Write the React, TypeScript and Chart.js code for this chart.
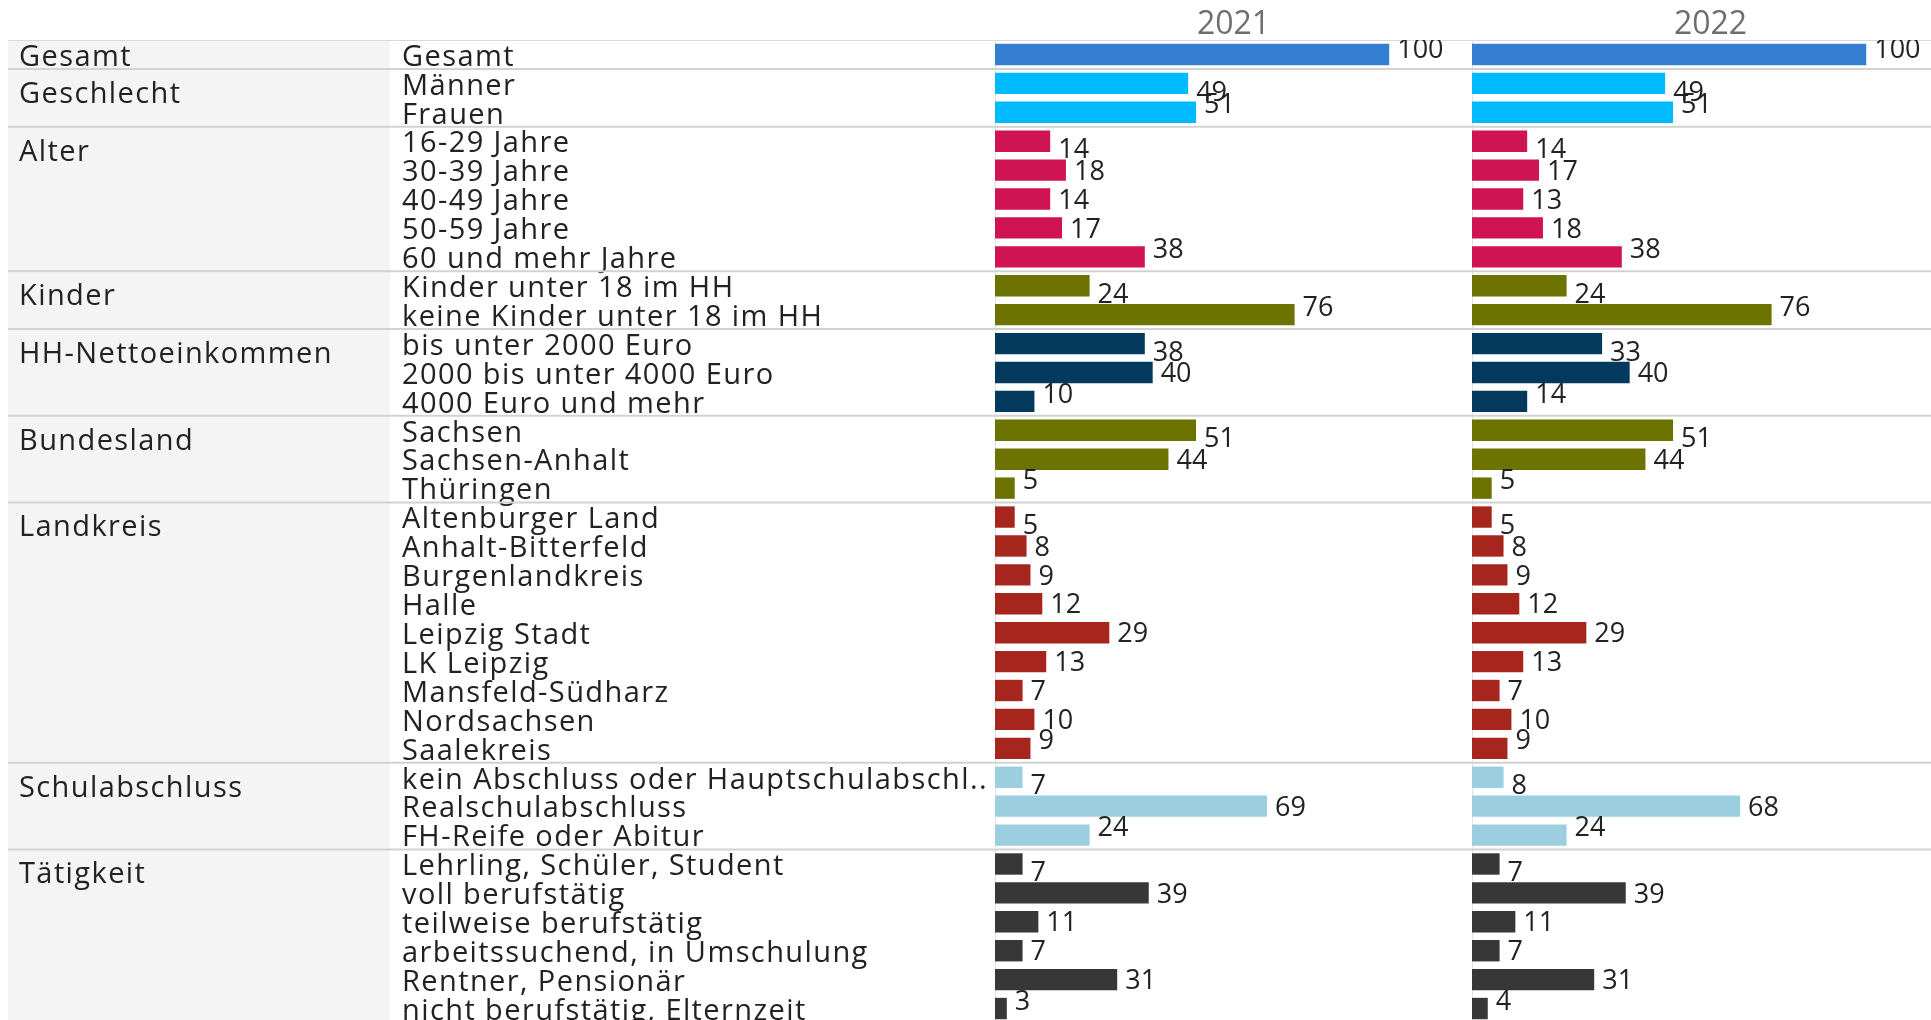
import React, { useEffect, useRef } from 'react';
import { Chart, registerables, CategoryScale } from 'chart.js';

Chart.register(...registerables);

// ---------------- data ----------------
const groups = ['Gesamt', 'Geschlecht', 'Alter', 'Kinder', 'HH-Nettoeinkommen', 'Bundesland', 'Landkreis', 'Schulabschluss', 'Tätigkeit'];
const groupSizes = [1, 2, 5, 2, 3, 3, 9, 3, 6];
const groupColors = ['#357fd2', '#00baff', '#d01352', '#6c7300', '#02395d', '#6c7300', '#a6261e', '#9bcfdf', '#373737'];

const categories = [
  'Gesamt',
  'Männer', 'Frauen',
  '16-29 Jahre', '30-39 Jahre', '40-49 Jahre', '50-59 Jahre', '60 und mehr Jahre',
  'Kinder unter 18 im HH', 'keine Kinder unter 18 im HH',
  'bis unter 2000 Euro', '2000 bis unter 4000 Euro', '4000 Euro und mehr',
  'Sachsen', 'Sachsen-Anhalt', 'Thüringen',
  'Altenburger Land', 'Anhalt-Bitterfeld', 'Burgenlandkreis', 'Halle', 'Leipzig Stadt', 'LK Leipzig', 'Mansfeld-Südharz', 'Nordsachsen', 'Saalekreis',
  'kein Abschluss oder Hauptschulabschl..', 'Realschulabschluss', 'FH-Reife oder Abitur',
  'Lehrling, Schüler, Student', 'voll berufstätig', 'teilweise berufstätig', 'arbeitssuchend, in Umschulung', 'Rentner, Pensionär', 'nicht berufstätig, Elternzeit',
];

const years = ['2021', '2022'];
const values2021 = [100, 49, 51, 14, 18, 14, 17, 38, 24, 76, 38, 40, 10, 51, 44, 5, 5, 8, 9, 12, 29, 13, 7, 10, 9, 7, 69, 24, 7, 39, 11, 7, 31, 3];
const values2022 = [100, 49, 51, 14, 17, 13, 18, 38, 24, 76, 33, 40, 14, 51, 44, 5, 5, 8, 9, 12, 29, 13, 7, 10, 9, 8, 68, 24, 7, 39, 11, 7, 31, 4];
const axisMax = 121;

// ---------------- derived helpers ----------------
const rowGroup: number[] = [];
const rowPosInGroup: number[] = [];
groupSizes.forEach((n, g) => {
  for (let k = 0; k < n; k++) {
    rowGroup.push(g);
    rowPosInGroup.push(k);
  }
});
const rowColors = rowGroup.map((g) => groupColors[g]);

const FONT = "'Open Sans', 'Noto Sans', sans-serif";
const LABEL_SIZE = 29;
const VALUE_SIZE = 27;
const LABEL_SPACING = '1.4px';
const TEXT_COLOR = '#222222';

class SpacedCategoryScale extends CategoryScale {
  static id = 'spacedCategory';
  static defaults = CategoryScale.defaults;
  drawLabels(chartArea: any) {
    const ctx: any = this.ctx;
    const prev = ctx.letterSpacing;
    ctx.save();
    ctx.translate(0, 3);
    ctx.letterSpacing = LABEL_SPACING;
    // @ts-ignore
    super.drawLabels(chartArea);
    ctx.restore();
    ctx.letterSpacing = prev || '0px';
  }
}
Chart.register(SpacedCategoryScale as any);

const tablePlugin = {
  id: 'tableDecor',
  beforeDraw(chart: any) {
    const { ctx, chartArea } = chart;
    ctx.save();
    ctx.fillStyle = '#ffffff';
    ctx.fillRect(0, 0, chart.width, chart.height);
    ctx.fillStyle = '#f4f4f4';
    ctx.fillRect(8, chartArea.top, 382, chart.height - chartArea.top);
    ctx.restore();
  },
  beforeDatasetsDraw(chart: any) {
    const { ctx, chartArea, scales } = chart;
    const y = scales.y;
    ctx.save();
    // vertical pane borders
    ctx.strokeStyle = '#e2e2e2';
    ctx.lineWidth = 1;
    [scales.x1.left, scales.x2.left].forEach((x: number) => {
      ctx.beginPath();
      ctx.moveTo(Math.round(x) + 0.5, chartArea.top);
      ctx.lineTo(Math.round(x) + 0.5, chart.height);
      ctx.stroke();
    });
    // top line
    ctx.strokeStyle = '#d9d9d9';
    ctx.beginPath();
    ctx.moveTo(8, chartArea.top + 0.5);
    ctx.lineTo(chart.width, chartArea.top + 0.5);
    ctx.stroke();
    // group separators
    ctx.strokeStyle = '#d2d2d2';
    ctx.lineWidth = 2;
    let idx = 0;
    groupSizes.forEach((n) => {
      idx += n;
      if (idx < categories.length) {
        const yy = (y.getPixelForValue(idx - 1) + y.getPixelForValue(idx)) / 2;
        ctx.beginPath();
        ctx.moveTo(8, yy);
        ctx.lineTo(chart.width, yy);
        ctx.stroke();
      }
    });
    // group labels
    ctx.fillStyle = TEXT_COLOR;
    ctx.font = `${LABEL_SIZE}px ${FONT}`;
    (ctx as any).letterSpacing = LABEL_SPACING;
    ctx.textAlign = 'left';
    ctx.textBaseline = 'alphabetic';
    let start = 0;
    groupSizes.forEach((n, g) => {
      const center = y.getPixelForValue(start) + (n > 1 ? 9 : 1.5);
      ctx.fillText(groups[g], 19, center + 0.357 * LABEL_SIZE);
      start += n;
    });
    (ctx as any).letterSpacing = '0px';
    ctx.restore();
  },
  afterDatasetsDraw(chart: any) {
    const { ctx, chartArea } = chart;
    ctx.save();
    ctx.beginPath();
    ctx.rect(chartArea.left, chartArea.top, chart.width - chartArea.left, chart.height - chartArea.top);
    ctx.clip();
    (ctx as any).letterSpacing = '0px';
    ctx.font = `${VALUE_SIZE}px ${FONT}`;
    ctx.fillStyle = TEXT_COLOR;
    ctx.textAlign = 'left';
    ctx.textBaseline = 'alphabetic';
    chart.data.datasets.forEach((ds: any, di: number) => {
      const meta = chart.getDatasetMeta(di);
      meta.data.forEach((el: any, i: number) => {
        const size = groupSizes[rowGroup[i]];
        const pos = rowPosInGroup[i];
        let off = 0;
        if (size === 1) off = -6;
        else if (pos === 0) off = 7.5;
        else if (pos === size - 1) off = -8.5;
        ctx.fillText(String(ds.data[i]), el.x + 8, el.y + off + 0.357 * VALUE_SIZE);
      });
    });
    ctx.restore();
  },
};

const xScale = (title: string, weight: number) => ({
  type: 'linear' as const,
  axis: 'x' as const,
  position: 'top' as const,
  stack: 'years',
  stackWeight: 1,
  weight,
  min: 0,
  max: axisMax,
  offset: false,
  grid: { display: false, drawTicks: false },
  border: { display: false },
  ticks: { display: false },
  title: {
    display: true,
    text: title,
    color: '#6e6e6e',
    font: { family: FONT, size: 32 },
    padding: { top: 6, bottom: 0 },
  },
  afterFit: (s: any) => {
    s.height = 40;
  },
});

export default function App() {
  const ref = useRef<HTMLCanvasElement>(null);
  useEffect(() => {
    if (!ref.current) return;
    const chart = new Chart(ref.current, {
      type: 'bar',
      data: {
        labels: categories,
        datasets: [
          {
            label: years[0],
            data: values2021,
            xAxisID: 'x1',
            yAxisID: 'y',
            backgroundColor: rowColors,
            grouped: false,
            barPercentage: 0.74,
            categoryPercentage: 1,
          },
          {
            label: years[1],
            data: values2022,
            xAxisID: 'x2',
            yAxisID: 'y',
            backgroundColor: rowColors,
            grouped: false,
            barPercentage: 0.74,
            categoryPercentage: 1,
          },
        ],
      },
      options: {
        indexAxis: 'y',
        animation: false,
        responsive: false,
        devicePixelRatio: 1,
        layout: { padding: { left: 402, top: 0, right: 0, bottom: 0 } },
        plugins: { legend: { display: false }, tooltip: { enabled: false }, title: { display: false } },
        scales: {
          x1: xScale(years[0], 1),
          x2: xScale(years[1], 0),
          y: {
            type: 'spacedCategory' as any,
            axis: 'y',
            position: 'left',
            offset: true,
            grid: { display: false, drawTicks: false },
            border: { display: false },
            ticks: {
              autoSkip: false,
              crossAlign: 'far',
              padding: 0,
              color: TEXT_COLOR,
              font: { family: FONT, size: LABEL_SIZE },
            },
            afterFit: (s: any) => {
              s.width = 593;
              s.paddingTop = 0;
              s.paddingBottom = 0;
            },
          } as any,
        },
      } as any,
      plugins: [tablePlugin],
    });
    return () => chart.destroy();
  }, []);
  return (
    <div style={{ position: 'absolute', left: 0, top: 0, width: 1931, height: 1020, overflow: 'hidden', background: '#fff' }}>
      <canvas ref={ref} width={1949} height={1023} style={{ display: 'block', width: 1949, height: 1023 }} />
    </div>
  );
}
